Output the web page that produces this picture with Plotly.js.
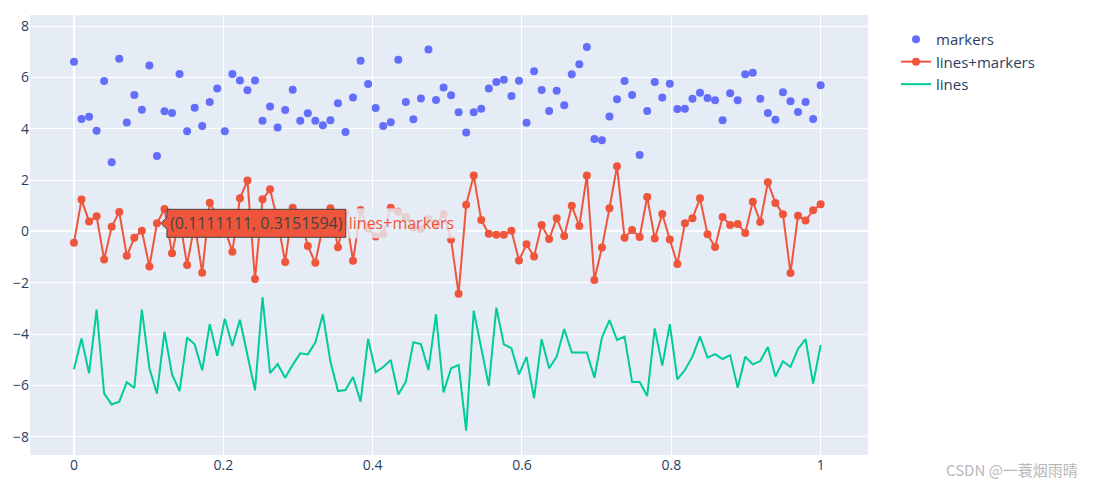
<!DOCTYPE html>
<html>
<head>
<meta charset="utf-8">
<script src="https://cdn.plot.ly/plotly-3.0.1.min.js"></script>
<style>html,body{margin:0;padding:0;background:#fff;}#chart{width:1093px;height:490px;}</style>
</head>
<body>
<div id="chart"></div>
<script>
const N = 100;
const xValues = Array.from({length: N}, (_, i) => i / (N - 1));

const markersY = [
  6.61, 4.38, 4.47, 3.92, 5.86, 2.69, 6.73, 4.24, 5.31, 4.74,
  6.46, 2.94, 4.68, 4.61, 6.13, 3.90, 4.82, 4.11, 5.04, 5.57,
  3.90, 6.13, 5.88, 5.50, 5.88, 4.31, 4.87, 4.05, 4.73, 5.52,
  4.31, 4.60, 4.31, 4.14, 4.33, 4.99, 3.87, 5.22, 6.65, 5.74,
  4.81, 4.11, 4.25, 6.69, 5.04, 4.37, 5.18, 7.09, 5.12, 5.61,
  5.30, 4.64, 3.85, 4.64, 4.78, 5.57, 5.82, 5.91, 5.27, 5.87,
  4.23, 6.24, 5.51, 4.69, 5.48, 4.91, 6.12, 6.51, 7.18, 3.60,
  3.55, 4.48, 5.15, 5.86, 5.31, 2.98, 4.69, 5.82, 5.22, 5.75,
  4.77, 4.78, 5.17, 5.40, 5.20, 5.11, 4.33, 5.38, 5.11, 6.12,
  6.18, 5.17, 4.61, 4.35, 5.42, 5.07, 4.65, 5.04, 4.38, 5.69
];

const linesMarkersY = [
  -0.44, 1.24, 0.39, 0.59, -1.09, 0.18, 0.76, -0.95, -0.25, 0.03,
  -1.37, 0.3151594, 0.87, -0.85, 0.50, -1.31, 0.30, -1.61, 1.12, 0.60,
  0.10, -0.79, 1.29, 1.98, -1.85, 1.25, 1.64, 0.40, -1.19, 0.92,
  0.60, -0.57, -1.22, 0.20, 0.90, -0.62, 0.70, -1.14, 0.83, 0.10,
  -0.20, -0.10, 0.92, 0.77, 0.55, 0.15, 0.09, 0.47, 0.25, 0.68,
  -0.32, -2.43, 1.04, 2.18, 0.44, -0.09, -0.13, -0.13, 0.03, -1.13,
  -0.50, -0.98, 0.25, -0.30, 0.51, -0.18, 1.00, 0.21, 2.18, -1.89,
  -0.63, 0.90, 2.54, -0.25, 0.05, -0.22, 1.34, -0.28, 0.68, -0.32,
  -1.27, 0.32, 0.51, 1.29, -0.11, -0.61, 0.56, 0.25, 0.29, -0.06,
  1.16, 0.37, 1.91, 1.11, 0.67, -1.62, 0.61, 0.42, 0.82, 1.06
];

const linesY = [
  -5.37, -4.17, -5.53, -3.05, -6.32, -6.74, -6.63, -5.87, -6.10, -3.05,
  -5.33, -6.32, -3.91, -5.57, -6.22, -4.13, -4.40, -5.41, -3.61, -4.85,
  -3.40, -4.46, -3.44, -4.85, -6.19, -2.57, -5.52, -5.17, -5.70, -5.20,
  -4.75, -4.79, -4.33, -3.23, -5.07, -6.22, -6.18, -5.67, -6.63, -4.19,
  -5.49, -5.28, -5.01, -6.35, -5.85, -4.32, -4.39, -5.40, -3.22, -6.27,
  -5.33, -5.20, -7.76, -3.09, -4.60, -6.01, -2.97, -4.40, -4.55, -5.57,
  -4.89, -6.50, -4.20, -5.33, -4.88, -3.80, -4.72, -4.72, -4.72, -5.70,
  -4.13, -3.46, -4.23, -4.10, -5.87, -5.87, -6.41, -3.78, -5.23, -3.61,
  -5.76, -5.40, -4.88, -4.10, -4.92, -4.78, -4.97, -4.82, -6.09, -4.88,
  -5.18, -5.05, -4.50, -5.65, -5.06, -5.28, -4.58, -4.20, -5.93, -4.43
];

const traceNames = ['markers', 'lines+markers', 'lines'];
const traceColors = ['#636efa', '#EF553B', '#00cc96'];
const yTickVals = [-8, -6, -4, -2, 0, 2, 4, 6, 8];
const xTickVals = [0, 0.2, 0.4, 0.6, 0.8, 1];

const traces = [
  {x: xValues, y: markersY, mode: 'markers', name: traceNames[0],
   type: 'scatter', marker: {color: traceColors[0], size: 8}},
  {x: xValues, y: linesMarkersY, mode: 'lines+markers', name: traceNames[1],
   type: 'scatter', marker: {color: traceColors[1], size: 8},
   line: {color: traceColors[1], width: 2}},
  {x: xValues, y: linesY, mode: 'lines', name: traceNames[2],
   type: 'scatter', line: {color: traceColors[2], width: 2}}
];

const layout = {
  width: 1093, height: 490,
  margin: {l: 30, r: 225, t: 15, b: 35},
  paper_bgcolor: '#ffffff',
  plot_bgcolor: '#E5ECF6',
  font: {family: '"Open Sans", verdana, arial, sans-serif', size: 14, color: '#2a3f5f'},
  hovermode: 'closest',
  hoverlabel: {font: {size: 16, family: '"Open Sans", verdana, arial, sans-serif'}},
  xaxis: {
    range: [-0.0589, 1.0634], tickvals: xTickVals, ticktext: ['0','0.2','0.4','0.6','0.8','1'],
    gridcolor: '#ffffff', gridwidth: 1, zeroline: true, zerolinecolor: '#ffffff', zerolinewidth: 2,
    showline: false, ticks: '', tickfont: {size: 14}
  },
  yaxis: {
    range: [-8.71, 8.43], tickvals: yTickVals,
    ticktext: ['\u22128','\u22126','\u22124','\u22122','0','2','4','6','8'],
    gridcolor: '#ffffff', gridwidth: 1, zeroline: true, zerolinecolor: '#ffffff', zerolinewidth: 2,
    showline: false, ticks: '', tickfont: {size: 14}
  },
  legend: {x: 1.0334, y: 0.982, font: {size: 15, color: '#2a3f5f'}},
  annotations: [{
    xref: 'paper', yref: 'paper', x: 1.253, y: -0.034, xanchor: 'right', yanchor: 'middle',
    text: 'CSDN @一蓑烟雨晴', showarrow: false,
    font: {family: '"Noto Sans CJK SC", "Noto Sans", sans-serif', size: 15, color: '#b9b9b9'}
  }]
};

Plotly.newPlot('chart', traces, layout, {displayModeBar: false}).then(function (gd) {
  try {
    Plotly.Fx.hover(gd, [{curveNumber: 1, pointNumber: 11}]);
  } catch (e) {}
});
</script>
</body>
</html>
